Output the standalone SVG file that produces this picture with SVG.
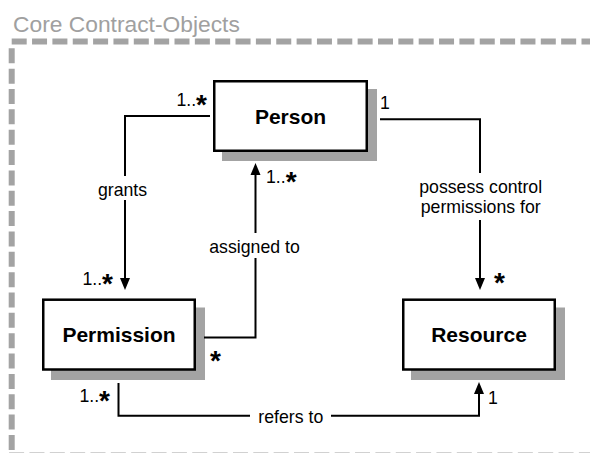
<svg xmlns="http://www.w3.org/2000/svg" width="590" height="453" viewBox="0 0 590 453">
  <style>
    .frame { fill: none; stroke: #a3a3a3; stroke-width: 6; stroke-dasharray: 15 5.35; }
    .title { font-family: "Liberation Sans", Arial, sans-serif; font-size: 22.8px; fill: #a0a0a0; }
    .shadow { fill: #a3a3a3; }
    .box { fill: #fff; stroke: #000; stroke-width: 2.5; }
    .name { font-family: "Liberation Sans", Arial, sans-serif; font-size: 21px; font-weight: bold; text-anchor: middle; fill: #000; }
    .lbl { font-family: "Liberation Sans", Arial, sans-serif; font-size: 17.7px; fill: #000; }
    .mid { text-anchor: middle; }
    .end { text-anchor: end; }
    .star { font-size: 28px; font-weight: bold; }
    .edge { fill: none; stroke: #000; stroke-width: 2; }
  </style>
  <defs>
    <marker id="arrow" markerUnits="userSpaceOnUse" markerWidth="12" markerHeight="10" refX="0" refY="5" orient="auto" overflow="visible">
      <path d="M0,0 L12,5 L0,10 Z" fill="#000"/>
    </marker>
  </defs>

  <!-- package frame -->
  <g id="package">
    <text class="title" x="13" y="31.5">Core Contract-Objects</text>
    <path class="frame" d="M11.7,41.5 H600"/>
    <path class="frame" d="M11.7,48.3 V460"/>
    <path class="frame" d="M9.1,455.6 H600"/>
  </g>

  <!-- classes -->
  <g id="person">
    <rect class="shadow" x="222" y="89" width="155" height="72"/>
    <rect class="box" x="214.25" y="81.25" width="152.5" height="69.5"/>
    <text class="name" x="290.5" y="123.7">Person</text>
  </g>
  <g id="permission">
    <rect class="shadow" x="51" y="307.5" width="154" height="72.5"/>
    <rect class="box" x="43.25" y="299.7" width="151.5" height="69.8"/>
    <text class="name" x="119" y="341.7">Permission</text>
  </g>
  <g id="resource">
    <rect class="shadow" x="411" y="307.5" width="154" height="72.5"/>
    <rect class="box" x="403.25" y="299.7" width="151.5" height="69.8"/>
    <text class="name" x="479" y="341.7">Resource</text>
  </g>

  <!-- associations -->
  <g id="connectors">
    <path class="edge" d="M210,116 H125 V176 M125,200 V278" marker-end="url(#arrow)"/>
    <path class="edge" d="M204,337.5 H255.5 V258 M255.5,233 V175" marker-end="url(#arrow)"/>
    <path class="edge" d="M380,119.3 H480 V173 M480,220 V278" marker-end="url(#arrow)"/>
    <path class="edge" d="M118.5,383 V415.7 H250 M331,415.7 H479 V394" marker-end="url(#arrow)"/>

    <text class="lbl mid" x="122.5" y="196">grants</text>
    <text class="lbl mid" x="254.5" y="253.3">assigned to</text>
    <text class="lbl mid" x="480.7" y="193.3">possess control</text>
    <text class="lbl mid" x="480.7" y="213.3">permissions for</text>
    <text class="lbl mid" x="290.8" y="422.7">refers to</text>

    <text class="lbl end" x="207" y="106">1..<tspan class="star" dy="7.5">*</tspan></text>
    <text class="lbl" x="380" y="109">1</text>
    <text class="lbl" x="266" y="183">1..<tspan class="star" dy="7.5">*</tspan></text>
    <text class="lbl end" x="113" y="285">1..<tspan class="star" dy="7.5">*</tspan></text>
    <text class="lbl star" x="494" y="291.5">*</text>
    <text class="lbl star" x="210" y="369.5">*</text>
    <text class="lbl end" x="110" y="402">1..<tspan class="star" dy="7.5">*</tspan></text>
    <text class="lbl" x="488" y="404">1</text>
  </g>
</svg>
